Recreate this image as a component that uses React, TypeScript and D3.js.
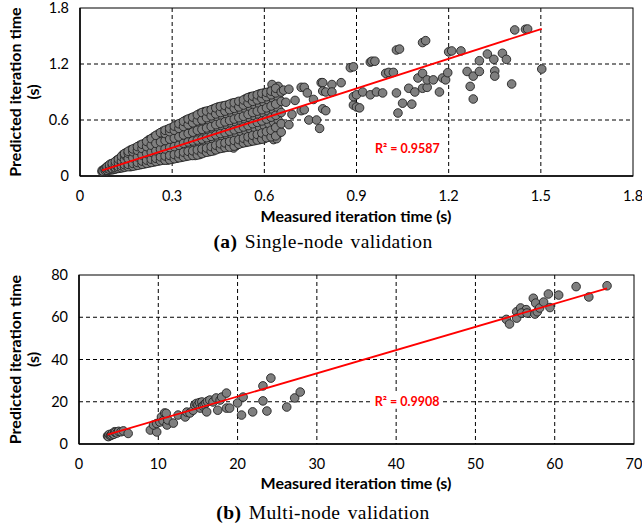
import React from 'react';
import * as d3 from 'd3';

// tick values
const singleXTicks = [0, 0.3, 0.6, 0.9, 1.2, 1.5, 1.8];
const singleYTicks = [0, 0.6, 1.2, 1.8];
const multiXTicks = [0, 10, 20, 30, 40, 50, 60, 70];
const multiYTicks = [0, 20, 40, 60, 80];

// single-node: measured (s), predicted (s) -- dense band read column by column
const singleDense: [number, number][] = [
  [0.072, 0.045], [0.072, 0.06], [0.078, 0.05], [0.078, 0.07],
  [0.085, 0.05], [0.085, 0.075], [0.085, 0.09],
  [0.092, 0.06], [0.092, 0.085], [0.092, 0.11],
  [0.1, 0.065], [0.1, 0.095], [0.1, 0.13],
  [0.11, 0.07], [0.11, 0.1], [0.11, 0.14],
  [0.12, 0.08], [0.12, 0.12], [0.12, 0.17],
  [0.13, 0.085], [0.13, 0.13], [0.13, 0.19],
  [0.14, 0.09], [0.14, 0.14], [0.14, 0.2], [0.14, 0.23],
  [0.15, 0.1], [0.15, 0.15], [0.15, 0.21], [0.15, 0.25],
  [0.165, 0.1], [0.165, 0.16], [0.165, 0.22], [0.165, 0.28],
  [0.18, 0.11], [0.18, 0.17], [0.18, 0.23], [0.18, 0.3],
  [0.195, 0.12], [0.195, 0.18], [0.195, 0.25], [0.195, 0.33],
  [0.21, 0.13], [0.21, 0.2], [0.21, 0.27], [0.21, 0.35],
  [0.225, 0.14], [0.225, 0.21], [0.225, 0.28], [0.225, 0.36], [0.225, 0.39],
  [0.24, 0.15], [0.24, 0.22], [0.24, 0.3], [0.24, 0.38], [0.24, 0.42],
  [0.255, 0.16], [0.255, 0.24], [0.255, 0.32], [0.255, 0.4], [0.255, 0.45],
  [0.27, 0.17], [0.27, 0.25], [0.27, 0.33], [0.27, 0.41], [0.27, 0.48],
  [0.285, 0.17], [0.285, 0.26], [0.285, 0.35], [0.285, 0.43], [0.285, 0.5],
  [0.3, 0.18], [0.3, 0.27], [0.3, 0.36], [0.3, 0.45], [0.3, 0.52],
  [0.315, 0.19], [0.315, 0.28], [0.315, 0.37], [0.315, 0.46], [0.315, 0.55],
  [0.33, 0.2], [0.33, 0.3], [0.33, 0.39], [0.33, 0.48], [0.33, 0.57],
  [0.345, 0.21], [0.345, 0.31], [0.345, 0.41], [0.345, 0.5], [0.345, 0.6],
  [0.36, 0.22], [0.36, 0.32], [0.36, 0.42], [0.36, 0.52], [0.36, 0.62],
  [0.375, 0.22], [0.375, 0.33], [0.375, 0.44], [0.375, 0.54], [0.375, 0.64],
  [0.39, 0.23], [0.39, 0.34], [0.39, 0.45], [0.39, 0.56], [0.39, 0.67],
  [0.405, 0.25], [0.405, 0.35], [0.405, 0.46], [0.405, 0.57], [0.405, 0.69],
  [0.42, 0.26], [0.42, 0.37], [0.42, 0.48], [0.42, 0.59], [0.42, 0.7],
  [0.435, 0.27], [0.435, 0.38], [0.435, 0.49], [0.435, 0.6], [0.435, 0.72],
  [0.45, 0.29], [0.45, 0.4], [0.45, 0.51], [0.45, 0.62], [0.45, 0.74],
  [0.465, 0.3], [0.465, 0.41], [0.465, 0.52], [0.465, 0.63], [0.465, 0.75],
  [0.48, 0.31], [0.48, 0.42], [0.48, 0.54], [0.48, 0.65], [0.48, 0.76],
  [0.495, 0.31], [0.495, 0.44], [0.495, 0.55], [0.495, 0.66], [0.495, 0.78],
  [0.51, 0.33], [0.51, 0.45], [0.51, 0.56], [0.51, 0.68], [0.51, 0.79],
  [0.525, 0.35], [0.525, 0.47], [0.525, 0.58], [0.525, 0.7], [0.525, 0.8],
  [0.54, 0.36], [0.54, 0.48], [0.54, 0.59], [0.54, 0.71], [0.54, 0.83],
  [0.555, 0.37], [0.555, 0.5], [0.555, 0.61], [0.555, 0.73], [0.555, 0.85],
  [0.57, 0.38], [0.57, 0.51], [0.57, 0.63], [0.57, 0.75], [0.57, 0.86],
  [0.585, 0.39], [0.585, 0.52], [0.585, 0.64], [0.585, 0.76], [0.585, 0.88],
  [0.6, 0.4], [0.6, 0.54], [0.6, 0.66], [0.6, 0.78], [0.6, 0.89],
  [0.615, 0.42], [0.615, 0.56], [0.615, 0.68], [0.615, 0.8], [0.615, 0.9],
  [0.63, 0.39], [0.63, 0.58], [0.63, 0.7], [0.63, 0.82], [0.63, 0.92],
  [0.645, 0.45], [0.645, 0.6], [0.645, 0.72], [0.645, 0.84], [0.645, 0.96],
  [0.5, 0.3], [0.51, 0.33], [0.64, 0.4], [0.625, 0.98],
];

// single-node: in-between points of the same band (staggered columns)
const singleDenseFill: [number, number][] = [
  [0.075, 0.052], [0.082, 0.06], [0.082, 0.08],
  [0.088, 0.062], [0.088, 0.082], [0.088, 0.1],
  [0.096, 0.072], [0.096, 0.098], [0.096, 0.12],
  [0.105, 0.068], [0.105, 0.08], [0.105, 0.115], [0.105, 0.135],
  [0.115, 0.075], [0.115, 0.09], [0.115, 0.12], [0.115, 0.155],
  [0.125, 0.082], [0.125, 0.1], [0.125, 0.145], [0.125, 0.18],
  [0.135, 0.088], [0.135, 0.11], [0.135, 0.16], [0.135, 0.21],
  [0.145, 0.095], [0.145, 0.12], [0.145, 0.175], [0.145, 0.225], [0.145, 0.24],
  [0.157, 0.1], [0.157, 0.125], [0.157, 0.185], [0.157, 0.245], [0.157, 0.265],
  [0.172, 0.105], [0.172, 0.135], [0.172, 0.195], [0.172, 0.26], [0.172, 0.29],
  [0.187, 0.115], [0.187, 0.145], [0.187, 0.205], [0.187, 0.275], [0.187, 0.315],
  [0.202, 0.125], [0.202, 0.16], [0.202, 0.225], [0.202, 0.295], [0.202, 0.34],
  [0.217, 0.135], [0.217, 0.17], [0.217, 0.24], [0.217, 0.315], [0.217, 0.37],
  [0.232, 0.145], [0.232, 0.18], [0.232, 0.255], [0.232, 0.33], [0.232, 0.4],
  [0.247, 0.155], [0.247, 0.19], [0.247, 0.27], [0.247, 0.35], [0.247, 0.435],
  [0.262, 0.165], [0.262, 0.205], [0.262, 0.285], [0.262, 0.365], [0.262, 0.465],
  [0.277, 0.17], [0.277, 0.215], [0.277, 0.29], [0.277, 0.38], [0.277, 0.455], [0.277, 0.49],
  [0.292, 0.175], [0.292, 0.22], [0.292, 0.305], [0.292, 0.395], [0.292, 0.475], [0.292, 0.51],
  [0.307, 0.185], [0.307, 0.23], [0.307, 0.315], [0.307, 0.405], [0.307, 0.49], [0.307, 0.535],
  [0.322, 0.195], [0.322, 0.24], [0.322, 0.33], [0.322, 0.42], [0.322, 0.51], [0.322, 0.56],
  [0.337, 0.205], [0.337, 0.255], [0.337, 0.35], [0.337, 0.44], [0.337, 0.53], [0.337, 0.585],
  [0.352, 0.215], [0.352, 0.265], [0.352, 0.365], [0.352, 0.455], [0.352, 0.55], [0.352, 0.61],
  [0.367, 0.22], [0.367, 0.27], [0.367, 0.375], [0.367, 0.47], [0.367, 0.57], [0.367, 0.63],
  [0.382, 0.225], [0.382, 0.28], [0.382, 0.385], [0.382, 0.49], [0.382, 0.59], [0.382, 0.655],
  [0.397, 0.24], [0.397, 0.29], [0.397, 0.395], [0.397, 0.5], [0.397, 0.6], [0.397, 0.68],
  [0.412, 0.255], [0.412, 0.3], [0.412, 0.41], [0.412, 0.515], [0.412, 0.625], [0.412, 0.695],
  [0.427, 0.265], [0.427, 0.315], [0.427, 0.425], [0.427, 0.53], [0.427, 0.645], [0.427, 0.71],
  [0.442, 0.28], [0.442, 0.33], [0.442, 0.44], [0.442, 0.55], [0.442, 0.665], [0.442, 0.73],
  [0.457, 0.295], [0.457, 0.345], [0.457, 0.455], [0.457, 0.565], [0.457, 0.68], [0.457, 0.745],
  [0.472, 0.305], [0.472, 0.355], [0.472, 0.465], [0.472, 0.58], [0.472, 0.695], [0.472, 0.755],
  [0.487, 0.31], [0.487, 0.37], [0.487, 0.48], [0.487, 0.595], [0.487, 0.71], [0.487, 0.77],
  [0.502, 0.32], [0.502, 0.38], [0.502, 0.495], [0.502, 0.61], [0.502, 0.725], [0.502, 0.785],
  [0.517, 0.34], [0.517, 0.39], [0.517, 0.51], [0.517, 0.625], [0.517, 0.74], [0.517, 0.8],
  [0.532, 0.355], [0.532, 0.405], [0.532, 0.525], [0.532, 0.64], [0.532, 0.76], [0.532, 0.815],
  [0.547, 0.365], [0.547, 0.42], [0.547, 0.54], [0.547, 0.66], [0.547, 0.78], [0.547, 0.84],
  [0.562, 0.375], [0.562, 0.435], [0.562, 0.56], [0.562, 0.68], [0.562, 0.8], [0.562, 0.855],
  [0.577, 0.385], [0.577, 0.445], [0.577, 0.575], [0.577, 0.695], [0.577, 0.815], [0.577, 0.87],
  [0.592, 0.395], [0.592, 0.46], [0.592, 0.59], [0.592, 0.71], [0.592, 0.83], [0.592, 0.885],
  [0.607, 0.41], [0.607, 0.475], [0.607, 0.61], [0.607, 0.73], [0.607, 0.85], [0.607, 0.895],
  [0.622, 0.42], [0.622, 0.49], [0.622, 0.63], [0.622, 0.75], [0.622, 0.87], [0.622, 0.91],
  [0.637, 0.43], [0.637, 0.52], [0.637, 0.65], [0.637, 0.77], [0.637, 0.89], [0.637, 0.94],
  [0.655, 0.47], [0.655, 0.56], [0.655, 0.68], [0.655, 0.8], [0.655, 0.9],
];

// single-node: sparse points right of the band
const singleSparse: [number, number][] = [
  [0.663, 0.92], [0.68, 0.93], [0.67, 0.79], [0.7, 0.81], [0.68, 0.55], [0.69, 0.66],
  [0.72, 0.95], [0.73, 0.95], [0.72, 0.7], [0.73, 0.71], [0.74, 0.89], [0.745, 0.6],
  [0.77, 0.6], [0.78, 0.51], [0.785, 1.0], [0.79, 1.0], [0.79, 0.91], [0.8, 0.9],
  [0.79, 0.72], [0.8, 0.7], [0.82, 0.98], [0.85, 1.0], [0.82, 0.9], [0.76, 0.82],
  [0.88, 1.16], [0.89, 1.17], [0.89, 0.76], [0.9, 0.74], [0.91, 0.73], [0.89, 0.85],
  [0.9, 0.87], [0.92, 0.9], [0.945, 0.87], [0.945, 1.22], [0.95, 1.23], [0.96, 1.23],
  [0.965, 0.9], [0.985, 0.89], [0.995, 1.1], [1.005, 1.11], [1.02, 1.11], [1.03, 0.89],
  [1.035, 0.675], [1.05, 0.78], [1.03, 1.35], [1.04, 1.36], [1.07, 0.94], [1.08, 0.77],
  [1.09, 0.9], [1.1, 1.05], [1.115, 1.1], [1.115, 0.94], [1.13, 0.95], [1.13, 1.03],
  [1.115, 1.43], [1.125, 1.45], [1.15, 1.03], [1.17, 0.9], [1.18, 1.05], [1.19, 1.03],
  [1.2, 1.33], [1.21, 1.34], [1.24, 1.34], [1.197, 1.107], [1.26, 1.12], [1.28, 1.07],
  [1.27, 0.96], [1.28, 0.825], [1.3, 1.12], [1.3, 1.235], [1.326, 1.307], [1.347, 1.25],
  [1.35, 1.125], [1.35, 1.07], [1.375, 1.315], [1.388, 1.25], [1.405, 0.986],
  [1.415, 1.565], [1.45, 1.572], [1.457, 1.575], [1.503, 1.146],
];

// multi-node: measured (s), predicted (s)
const multiPoints: [number, number][] = [
  [3.6, 3.8], [3.7, 3.5], [3.8, 4.5], [4.0, 4.0], [4.1, 4.3], [4.2, 5.0], [4.4, 4.6],
  [4.5, 5.8], [4.6, 5.5], [4.8, 5.2], [5.0, 6.0], [5.3, 5.8], [5.6, 6.2], [6.2, 5.0],
  [9.0, 6.6], [9.8, 5.7], [9.4, 9.0], [9.8, 9.7], [10.2, 10.4], [10.4, 12.8],
  [10.8, 14.7], [10.6, 11.0], [11.1, 9.0], [11.2, 11.4], [11.0, 14.5], [11.9, 9.9],
  [12.5, 13.7], [13.4, 12.8], [13.6, 15.1], [14.0, 14.7], [14.4, 16.0], [14.6, 18.5],
  [14.8, 19.2], [15.0, 18.6], [15.2, 19.6], [15.5, 19.9], [15.3, 17.0], [15.6, 18.0],
  [15.8, 18.6], [16.0, 19.4], [16.2, 20.2], [16.5, 20.8], [16.1, 15.2], [16.9, 19.9],
  [17.3, 21.8], [17.5, 16.0], [17.8, 20.8], [18.0, 22.2], [18.6, 24.1], [18.6, 17.0],
  [19.0, 17.0], [20.0, 19.4], [20.5, 13.7], [20.7, 22.2], [21.9, 15.2], [23.2, 20.4],
  [23.2, 27.5], [23.7, 15.6], [24.2, 31.2], [26.2, 17.5], [27.2, 21.8], [27.9, 24.6],
  [53.9, 59.0], [54.3, 56.8], [55.2, 62.6], [55.7, 64.4], [56.4, 63.6], [55.2, 59.6],
  [55.8, 62.0], [56.5, 62.0], [57.3, 69.0], [57.6, 66.7], [57.5, 61.5], [57.8, 62.6],
  [58.1, 64.4], [58.6, 67.2], [59.2, 71.0], [59.4, 64.6], [60.5, 70.5], [62.7, 74.5],
  [64.3, 69.6], [66.6, 74.9],
];

// linear trend lines as reported by the spreadsheet
const singleFit = { slope: 1.06, intercept: -0.016 };
const multiFit = { slope: 1.1, intercept: 0.45 };
const singleR2 = 'R² = 0.9587';
const multiR2 = 'R² = 0.9908';

const LABEL_FONT = 'Lato, "Open Sans", sans-serif';
const SERIF = '"Liberation Serif", "Times New Roman", serif';

type Box = { left: number; top: number; right: number; bottom: number };

function Panel(props: {
  box: Box;
  xTicks: number[];
  yTicks: number[];
  fmt: (v: number) => string;
  points: [number, number][];
  fit: { slope: number; intercept: number };
  r2: string;
  r2At: [number, number];
  r2Bg: boolean;
  titleY: number;
  captionY: number;
  tag: string;
  caption: string;
}) {
  const { box, xTicks, yTicks, fmt, points, fit } = props;
  const x = d3.scaleLinear().domain([xTicks[0], xTicks[xTicks.length - 1]]).range([box.left, box.right]);
  const y = d3.scaleLinear().domain([yTicks[0], yTicks[yTicks.length - 1]]).range([box.bottom, box.top]);
  const [x0, x1] = d3.extent(points, (d) => d[0]) as [number, number];
  const line = d3.line<number>().x((d) => x(d)).y((d) => y(fit.slope * d + fit.intercept));
  const midY = (box.top + box.bottom) / 2;

  return (
    <g>
      <rect x={box.left} y={box.top} width={box.right - box.left} height={box.bottom - box.top}
        fill="#fff" stroke="#000" strokeWidth={1} />
      {xTicks.slice(1, -1).map((t) => (
        <line key={'vx' + t} x1={x(t)} x2={x(t)} y1={box.top} y2={box.bottom}
          stroke="#000" strokeWidth={1} strokeDasharray="4,3" />
      ))}
      {yTicks.slice(1, -1).map((t) => (
        <line key={'hy' + t} x1={box.left} x2={box.right} y1={y(t)} y2={y(t)}
          stroke="#000" strokeWidth={1} strokeDasharray="4,3" />
      ))}
      <line x1={box.left} x2={box.right} y1={box.bottom} y2={box.bottom} stroke="#000" strokeWidth={1.5} />
      <line x1={box.left} x2={box.left} y1={box.top} y2={box.bottom} stroke="#000" strokeWidth={1.5} />
      {xTicks.map((t) => (
        <text key={'xl' + t} x={x(t)} y={box.bottom + 25} textAnchor="middle"
          fontFamily={LABEL_FONT} fontSize={14.5} fill="#000">{fmt(t)}</text>
      ))}
      {yTicks.map((t) => (
        <text key={'yl' + t} x={box.left - 11} y={y(t) + 5} textAnchor="end"
          fontFamily={LABEL_FONT} fontSize={14.5} fill="#000">{fmt(t)}</text>
      ))}
      {points.map((d, i) => (
        <circle key={i} cx={x(d[0])} cy={y(d[1])} r={4.3} fill="#7f7f7f" stroke="#222" strokeWidth={0.9} />
      ))}
      <path d={line([x0, x1]) ?? ''} stroke="#ff0000" strokeWidth={1.8} fill="none" />
      {props.r2Bg && (
        <rect x={x(props.r2At[0]) - 2} y={y(props.r2At[1]) - 8} width={68} height={15} fill="#fff" />
      )}
      <text x={x(props.r2At[0])} y={y(props.r2At[1]) + 4.5} fontFamily={LABEL_FONT} fontWeight="bold"
        fontSize={12.5} fill="#ff0000">{props.r2}</text>
      <text x={356} y={props.titleY} textAnchor="middle" fontFamily={LABEL_FONT}
        fontWeight="bold" fontSize={16} fill="#000">Measured iteration time (s)</text>
      <g transform={`translate(15, ${midY}) rotate(-90)`}>
        <text x={0} y={5.5} textAnchor="middle" fontFamily={LABEL_FONT} fontWeight="bold" fontSize={16}
          fill="#000">Predicted iteration time</text>
        <text x={0} y={24} textAnchor="middle" fontFamily={LABEL_FONT} fontWeight="bold" fontSize={16}
          fill="#000">(s)</text>
      </g>
      <text x={323} y={props.captionY} textAnchor="middle" fontFamily={SERIF} fontSize={19.5}
        letterSpacing={0.4} wordSpacing={2} fill="#000">
        <tspan fontWeight="bold">{props.tag}</tspan>
        <tspan> {props.caption}</tspan>
      </text>
    </g>
  );
}

export default function App() {
  const fmtSingle = (v: number) => (v === 0 ? '0' : v.toFixed(1));
  const fmtMulti = (v: number) => String(v);
  return (
    <svg width={642} height={525} style={{ position: 'absolute', left: 0, top: 0, background: '#fff' }}>
      <Panel
        box={{ left: 80, top: 8, right: 633, bottom: 176 }}
        xTicks={singleXTicks}
        yTicks={singleYTicks}
        fmt={fmtSingle}
        points={[...singleDense, ...singleDenseFill, ...singleSparse]}
        fit={singleFit}
        r2={singleR2}
        r2At={[0.96, 0.3]}
        r2Bg={false}
        titleY={222}
        captionY={248}
        tag="(a)"
        caption="Single-node validation"
      />
      <Panel
        box={{ left: 79, top: 275, right: 634, bottom: 444 }}
        xTicks={multiXTicks}
        yTicks={multiYTicks}
        fmt={fmtMulti}
        points={multiPoints}
        fit={multiFit}
        r2={multiR2}
        r2At={[37.3, 20]}
        r2Bg={true}
        titleY={489}
        captionY={519}
        tag="(b)"
        caption="Multi-node validation"
      />
    </svg>
  );
}
